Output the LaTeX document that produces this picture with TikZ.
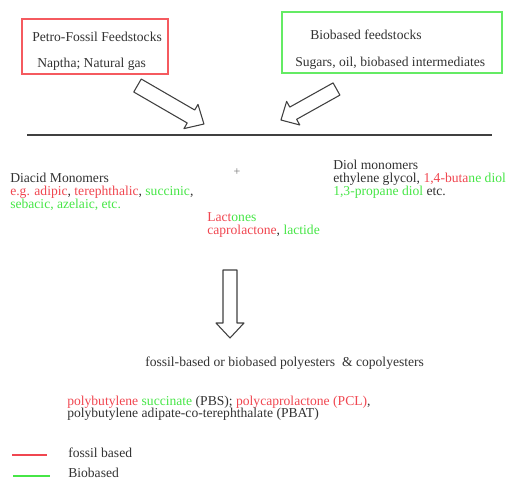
\documentclass[tikz,border=0pt]{standalone}
\usepackage{fontspec}
\setmainfont{Liberation Serif}
\definecolor{myred}{RGB}{240,70,80}
\definecolor{mygreen}{RGB}{70,230,70}
\definecolor{mytext}{RGB}{50,50,50}
\definecolor{boxred}{RGB}{245,90,95}
\definecolor{boxgreen}{RGB}{100,235,100}
\newcommand{\rd}[1]{\textcolor{myred}{#1}}
\newcommand{\gn}[1]{\textcolor{mygreen}{#1}}
\tikzset{
  txt/.style={anchor=base west, inner sep=0pt, text=mytext},
  arrowline/.style={draw=black!75, line width=0.8pt, line join=round, fill=white},
  pics/blockarrow/.style n args={4}{code={
    \draw[arrowline] (0,-#2/2) -- (#1-#4,-#2/2) -- (#1-#4,-#3/2) -- (#1,0)
      -- (#1-#4,#3/2) -- (#1-#4,#2/2) -- (0,#2/2) -- cycle;}},
}
\begin{document}
\begin{tikzpicture}[x=0.75pt,y=-0.75pt,font=\rmfamily\fontsize{10.2}{12}\selectfont]
\useasboundingbox (0,0) rectangle (507,479);
% feedstock boxes
\draw[boxred, line width=1.1pt] (22,19) rectangle (168,74);
\node[txt] (petro) at (32,41) {Petro-Fossil Feedstocks};
\node[txt] (naptha) at (37,67) {Naptha; Natural gas};
\draw[boxgreen, line width=1.1pt] (282,12) rectangle (502,73);
\node[txt] (bio) at (310,39) {Biobased feedstocks};
\node[txt] (sugars) at (295,66) {Sugars, oil, biobased intermediates};
% block arrows
\pic[rotate=-30.1] at (137.5,85.5) {blockarrow={76.8}{15}{28}{15}};
\pic[rotate=-150.8] at (336.5,89) {blockarrow={63.6}{14}{27}{14}};
% horizontal rule
\coordinate (ruleL) at (27,135);
\coordinate (ruleR) at (492,135);
\draw[black!75, line width=1.2pt] (ruleL) -- (ruleR);
% monomers
\node[txt] (diacid) at (10,182) {Diacid Monomers};
\node[txt] (eg) at (10,195) {\rd{e.g. adipic}, \rd{terephthalic}, \gn{succinic},};
\node[txt] (seb) at (10,208) {\gn{sebacic, azelaic, etc.}};
\node[text=black!55, inner sep=0pt, font=\fontsize{9}{10}\selectfont] (plus) at (237,172) {+};
\node[txt] (diol) at (333,169) {Diol monomers};
\node[txt] (eth) at (333,182) {ethylene glycol, \rd{1,4-buta}\gn{ne diol}};
\node[txt] (prop) at (333,195) {\gn{1,3-propane diol} etc.};
\node[txt] (lact) at (207,221.5) {\rd{Lact}\gn{ones}};
\node[txt] (capro) at (207,234) {\rd{caprolactone}, \gn{lactide}};
% down arrow
\pic[rotate=-90] at (230,270) {blockarrow={68}{14}{28}{15}};
% products
\node[txt] (poly) at (145,366) {fossil-based or biobased polyesters\ \ \& copolyesters};
\node[txt] (pbs) at (67,405) {\rd{polybutylene} \gn{succinate} (PBS); \rd{polycaprolactone (PCL)},};
\node[txt] (pbat) at (67,417.5) {polybutylene adipate-co-terephthalate (PBAT)};
% legend
\coordinate (lr1) at (12,455);
\coordinate (lr2) at (47,455);
\draw[myred, line width=1.5pt] (lr1) -- (lr2);
\node[txt] (fossil) at (68,457) {fossil based};
\coordinate (lg1) at (13,475.5);
\coordinate (lg2) at (50,475.5);
\draw[mygreen, line width=1.5pt] (lg1) -- (lg2);
\node[txt] (biob) at (68,477) {Biobased};
\end{tikzpicture}
\end{document}
